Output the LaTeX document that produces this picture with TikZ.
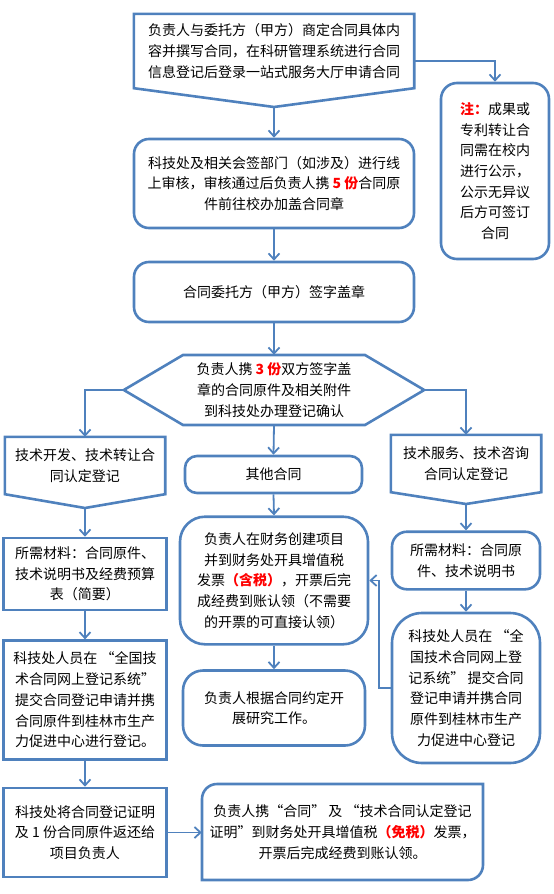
\documentclass[tikz,border=0pt]{standalone}
\usepackage{fontspec}
\setmainfont{Noto Sans CJK SC}
\usetikzlibrary{arrows.meta,calc}
\definecolor{myblue}{RGB}{79,129,189}
\newcommand\fs{\fontsize{14pt}{20.7pt}\selectfont}
\newcommand\rd[1]{{\color{red}\bfseries #1}}
\tikzset{
  boxline/.style={draw=myblue, line width=2.6pt},
  txt/.style={align=center, inner sep=0pt, font=\fs, text=black},
  sbox/.style={boxline, txt},
  rbox/.style={boxline, txt, rounded corners=#1},
  rbox/.default=15pt,
  conn/.style={draw=myblue, line width=1.8pt, -{Straight Barb[length=6pt,width=11pt]}}
}
\begin{document}
\begin{tikzpicture}[x=1pt,y=-1pt]
\useasboundingbox (0,0) rectangle (554,894);
% top pentagon
\node[txt, minimum width=280pt, minimum height=74pt] (n1) at (274,51)
  {负责人与委托方（甲方）商定合同具体内\\容并撰写合同，在科研管理系统进行合同\\信息登记后登录一站式服务大厅申请合同};
\coordinate (n1tip) at (274,107);
\draw[boxline] (n1.north west) -- (n1.north east) -- (n1.south east) -- (n1tip) -- (n1.south west) -- cycle;
% note
\node[rbox=16pt, minimum width=108pt, minimum height=176pt] (note) at (495,171)
  {\rd{注：}成果或\\专利转让合\\同需在校内\\进行公示，\\公示无异议\\后方可签订\\合同};
% box 2, 3
\node[rbox, minimum width=280pt, minimum height=89pt] (b2) at (274,183.5)
  {科技处及相关会签部门（如涉及）进行线\\上审核，审核通过后负责人携 \rd{5 份}合同原\\件前往校办加盖合同章};
\node[rbox, minimum width=280pt, minimum height=60pt] (b3) at (274,292)
  {合同委托方（甲方）签字盖章};
% hexagon
\node[txt, minimum width=300pt, minimum height=70pt] (hx) at (274,390)
  {负责人携 \rd{3 份}双方签字盖\\章的合同原件及相关附件\\到科技处办理登记确认};
\draw[boxline] (183,355) -- (365,355) -- (hx.east) -- (365,425) -- (183,425) -- (hx.west) -- cycle;
% left pentagon
\node[txt, minimum width=160pt, minimum height=57pt] (lp) at (85,465.5)
  {技术开发、技术转让合\\同认定登记};
\coordinate (lptip) at (85,508);
\draw[boxline] (lp.north west) -- (lp.north east) -- (lp.south east) -- (lptip) -- (lp.south west) -- cycle;
% right pentagon
\node[txt, minimum width=150pt, minimum height=57pt] (rp) at (466,463.5)
  {技术服务、技术咨询\\合同认定登记};
\coordinate (rptip) at (466,504);
\draw[boxline] (rp.north west) -- (rp.north east) -- (rp.south east) -- (rptip) -- (rp.south west) -- cycle;
% middle column
\node[rbox=12pt, minimum width=177pt, minimum height=37pt] (oc) at (273.5,474.5) {其他合同};
\node[rbox=25pt, minimum width=188pt, minimum height=127.6pt] (fn) at (274,580.5)
  {负责人在财务创建项目\\并到财务处开具增值税\\发票\rd{（含税）}，开票后完\\成经费到账认领（不需要\\的开票的可直接认领）};
\node[rbox=20pt, minimum width=182pt, minimum height=75pt] (rs) at (274,708)
  {负责人根据合同约定开\\展研究工作。};
% left column
\node[sbox, minimum width=163pt, minimum height=72pt] (lm) at (85,574)
  {所需材料：合同原件、\\技术说明书及经费预算\\表（简要）};
\node[sbox, minimum width=163pt, minimum height=118.6pt] (lr) at (85,700)
  {科技处人员在 “全国技\\术合同网上登记系统”\\提交合同登记申请并携\\合同原件到桂林市生产\\力促进中心进行登记。};
\node[sbox, minimum width=163pt, minimum height=89pt] (bl) at (85,832.5)
  {科技处将合同登记证明\\及 1 份合同原件返还给\\项目负责人};
% right column
\node[rbox, minimum width=148pt, minimum height=57.6pt] (rm) at (466,560.5)
  {所需材料：合同原\\件、技术说明书};
\node[rbox=30pt, minimum width=148pt, minimum height=150pt] (rr) at (466,688)
  {科技处人员在 “全\\国技术合同网上登\\记系统” 提交合同\\登记申请并携合同\\原件到桂林市生产\\力促进中心登记};
% bottom right
\node[txt, minimum width=281pt, minimum height=96pt] (br) at (342.5,832)
  {负责人携“合同” 及 “技术合同认定登记\\证明”到财务处开具增值税\rd{（免税）}发票，\\开票后完成经费到账认领。};
\draw[boxline] (217,784) -- (483,784) -- (483,865) arc[start angle=0,end angle=-90,radius=15pt]
  -- (202,880) -- (202,799) arc[start angle=180,end angle=90,radius=15pt] -- cycle;
% connectors
\draw[conn] ([yshift=-10pt]n1.east) -| (note.north);
\draw[conn] (n1tip) -- (b2.north);
\draw[conn] (b2.south) -- (b3.north);
\draw[conn] (b3.south) -- (hx.north);
\draw[conn] (hx.west) -| (lp.north);
\draw[conn] (hx.east) -| (rp.north);
\draw[conn] (hx.south) -- (oc.north);
\draw[conn] (oc.south) -- (fn.north);
\draw[conn] (fn.south) -- (rs.north);
\draw[conn] (lptip) -- (lm.north);
\draw[conn] (lm.south) -- (lr.north);
\draw[conn] (lr.south) -- (bl.north);
\draw[conn] (bl.east) -- (bl.east -| br.west);
\draw[conn] (rptip) -- (rm.north);
\draw[conn] (rm.south) -- (rr.north);
\draw[conn] (rr.west) -- ++(-12pt,0) |- (fn.east);
\end{tikzpicture}
\end{document}
